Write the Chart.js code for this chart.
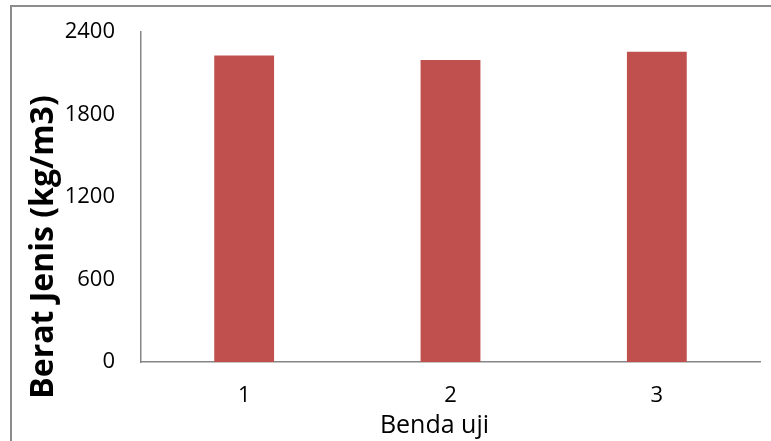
<!DOCTYPE html>
<html>
<head>
<meta charset="utf-8">
<script src="https://cdn.jsdelivr.net/npm/chart.js@4.4.1/dist/chart.umd.min.js"></script>
<style>
  html, body { margin: 0; padding: 0; background: #fff; overflow: hidden; width: 771px; height: 441px; }
  #frame { position: absolute; left: 10px; top: 5px; width: 800px; height: 500px; border: 2px solid #8c8c8c; box-sizing: border-box; }
  #wrap { position: absolute; left: 0; top: 0; width: 771px; height: 460px; }
</style>
</head>
<body>
<div id="frame"></div>
<div id="wrap"><canvas id="c" width="771" height="460"></canvas></div>
<script>
// Specimen labels and measured unit weights (kg/m3)
const categories = ['1', '2', '3'];
const beratJenis = [2230, 2196, 2256];
const yTicks = [0, 600, 1200, 1800, 2400];

const xTitleText = 'Benda uji';
const yTitleText = 'Berat Jenis (kg/m3)';

// Axis titles, drawn as text on the canvas beside each axis
const axisTitlePlugin = {
  id: 'axisTitles',
  afterDraw(chart) {
    const { ctx, chartArea } = chart;
    ctx.save();
    ctx.fillStyle = '#000';
    ctx.textAlign = 'center';

    ctx.font = '25px "Open Sans"';
    ctx.textBaseline = 'alphabetic';
    ctx.fillText(xTitleText, (chartArea.left + chartArea.right) / 2 - 16, 433);

    ctx.font = 'bold 32px "Open Sans"';
    ctx.textBaseline = 'alphabetic';
    ctx.translate(53, 247);
    ctx.rotate(-Math.PI / 2);
    ctx.fillText(yTitleText, 0, 0);
    ctx.restore();
  }
};

new Chart(document.getElementById('c'), {
  type: 'bar',
  data: {
    labels: categories,
    datasets: [{
      data: beratJenis,
      backgroundColor: '#C0504D',
      borderWidth: 0,
      categoryPercentage: 1,
      barPercentage: 0.29
    }]
  },
  plugins: [axisTitlePlugin],
  options: {
    responsive: false,
    animation: false,
    layout: { padding: { left: 14, right: 11, top: 32, bottom: 0 } },
    plugins: { legend: { display: false }, tooltip: { enabled: false } },
    scales: {
      x: {
        grid: { display: false, drawTicks: false },
        border: { display: true, color: '#868686', width: 1.5 },
        ticks: { color: '#000', font: { family: 'Open Sans', size: 22 }, padding: 21 },
        afterFit(scale) { scale.height = 98; }
      },
      y: {
        min: 0,
        max: 2400,
        afterBuildTicks(scale) { scale.ticks = yTicks.map(v => ({ value: v })); },
        grid: { display: false, drawTicks: false },
        border: { display: true, color: '#868686', width: 1.5 },
        ticks: {
          color: '#000',
          font: { family: 'Open Sans', size: 22 },
          padding: 26,
          callback: (v) => String(v)
        },
        afterFit(scale) {
          scale.width = 127;
          scale.paddingTop = 0;
          scale.paddingBottom = 0;
        }
      }
    }
  }
});
</script>
</body>
</html>
